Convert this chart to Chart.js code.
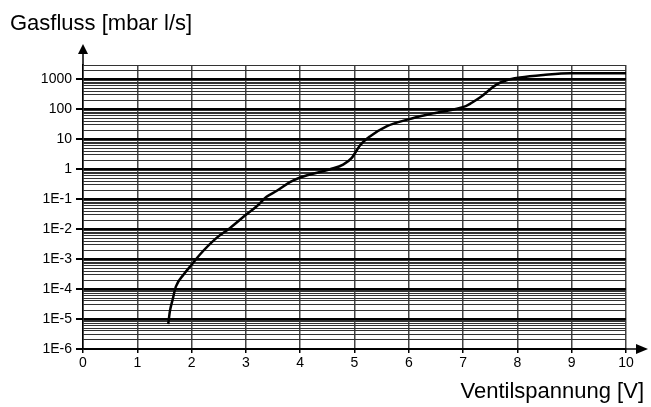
<!DOCTYPE html>
<html>
<head>
<meta charset="utf-8">
<script src="https://cdn.jsdelivr.net/npm/chart.js@4.4.1/dist/chart.umd.min.js"></script>
<style>
  body { margin: 0; background: #fff; }
  #wrap { width: 651px; height: 407px; }
</style>
</head>
<body>
<div id="wrap"><canvas id="chart" width="651" height="407"></canvas></div>
<script>
// values
const volts = [1.57, 1.60, 1.65, 1.71, 1.85, 2.0, 2.15, 2.46, 2.71, 3.0, 3.2, 3.38, 3.57, 3.81, 4.0, 4.55, 4.79, 4.95, 5.10, 5.29, 5.59, 5.99, 6.45, 7.05, 7.16, 7.31, 7.62, 7.80, 8.05, 8.48, 8.97, 10.0];
const flow = [6.8e-6, 1.8e-5, 4.4e-5, 1.2e-4, 3.0e-4, 6.5e-4, 1.4e-3, 5.1e-3, 1.1e-2, 3.0e-2, 5.8e-2, 0.12, 0.19, 0.37, 0.53, 1.0, 1.43, 2.4, 6.2, 12.6, 27, 46, 73, 128, 165, 245, 680, 930, 1140, 1390, 1600, 1600];

const decadeValues = [1e-6, 1e-5, 1e-4, 1e-3, 1e-2, 1e-1, 1, 10, 100, 1000];
const decadeLabels = ["1E-6", "1E-5", "1E-4", "1E-3", "1E-2", "1E-1", "1", "10", "100", "1000"];
const yMin = 1e-6;
const yMax = 3000;

const yTitle = "Gasfluss [mbar l/s]";
const xTitle = "Ventilspannung [V]";

//helpers
const isDecade = function (v) {
  const l = Math.log10(v);
  return Math.abs(l - Math.round(l)) < 1e-9;
};

const logTicks = function () {
  const list = [];
  for (let e = -6; e <= 3; e++) {
    for (let m = 1; m <= 9; m++) {
      const v = Number((m * Math.pow(10, e)).toPrecision(3));
      if (v <= yMax) list.push({ value: v });
    }
  }
  return list;
};

//arrows + axis titles
const decorPlugin = {
  id: "decor",
  afterDraw(chart) {
    const { ctx, chartArea } = chart;
    const l = chartArea.left, b = chartArea.bottom, t = chartArea.top, r = chartArea.right;
    ctx.save();
    ctx.strokeStyle = "#000";
    ctx.fillStyle = "#000";
    ctx.lineWidth = 1.5;
    ctx.beginPath();
    ctx.moveTo(l, t);
    ctx.lineTo(l, 52);
    ctx.moveTo(r, b);
    ctx.lineTo(637, b);
    ctx.stroke();

    ctx.beginPath();
    ctx.moveTo(l, 44);
    ctx.lineTo(l - 5, 54);
    ctx.lineTo(l + 5, 54);
    ctx.closePath();
    ctx.fill();

    ctx.beginPath();
    ctx.moveTo(648, b);
    ctx.lineTo(636, b - 5);
    ctx.lineTo(636, b + 5);
    ctx.closePath();
    ctx.fill();

    ctx.font = "22px 'Liberation Sans', Arial, sans-serif";
    ctx.textBaseline = "alphabetic";
    ctx.textAlign = "left";
    ctx.fillText(yTitle, 10, 30);
    ctx.textAlign = "right";
    ctx.fillText(xTitle, 644, 398);
    ctx.restore();
  },
};

Chart.defaults.font.family = "'Liberation Sans', Arial, sans-serif";
Chart.defaults.color = "#000";

new Chart(document.getElementById("chart"), {
  type: "line",
  data: {
    datasets: [
      {
        data: volts.map((v, i) => ({ x: v, y: flow[i] })),
        borderColor: "#000",
        borderWidth: 2.5,
        pointRadius: 0,
        fill: false,
        cubicInterpolationMode: "monotone",
      },
    ],
  },
  options: {
    responsive: false,
    animation: false,
    layout: { padding: { left: 0, top: 65, right: 25, bottom: 0 } },
    plugins: {
      legend: { display: false },
      tooltip: { enabled: false },
    },
    scales: {
      x: {
        type: "linear",
        min: 0,
        max: 10,
        afterFit(scale) {
          scale.height = 58;
        },
        ticks: { stepSize: 1, font: { size: 14 }, padding: 2, maxRotation: 0 },
        grid: { color: "#444", lineWidth: 1.5, tickLength: 4, tickColor: "#000" },
        border: { color: "#000", width: 1.5 },
      },
      y: {
        type: "logarithmic",
        min: yMin,
        max: yMax,
        afterFit(scale) {
          scale.width = 83;
        },
        afterBuildTicks(scale) {
          scale.ticks = logTicks();
        },
        ticks: {
          autoSkip: false,
          font: { size: 14 },
          padding: 4,
          callback(value) {
            const i = decadeValues.findIndex((d) => Math.abs(d - value) / d < 1e-6);
            return i >= 0 ? decadeLabels[i] : "";
          },
        },
        grid: {
          color: (c) => (c.tick && isDecade(c.tick.value) ? "#000" : "#333"),
          lineWidth: (c) => (c.tick && isDecade(c.tick.value) ? 2 : 1),
          tickLength: 7,
          tickColor: (c) => (c.tick && isDecade(c.tick.value) ? "#000" : "rgba(0,0,0,0)"),
        },
        border: { color: "#000", width: 1.5 },
      },
    },
  },
  plugins: [decorPlugin],
});
</script>
</body>
</html>
